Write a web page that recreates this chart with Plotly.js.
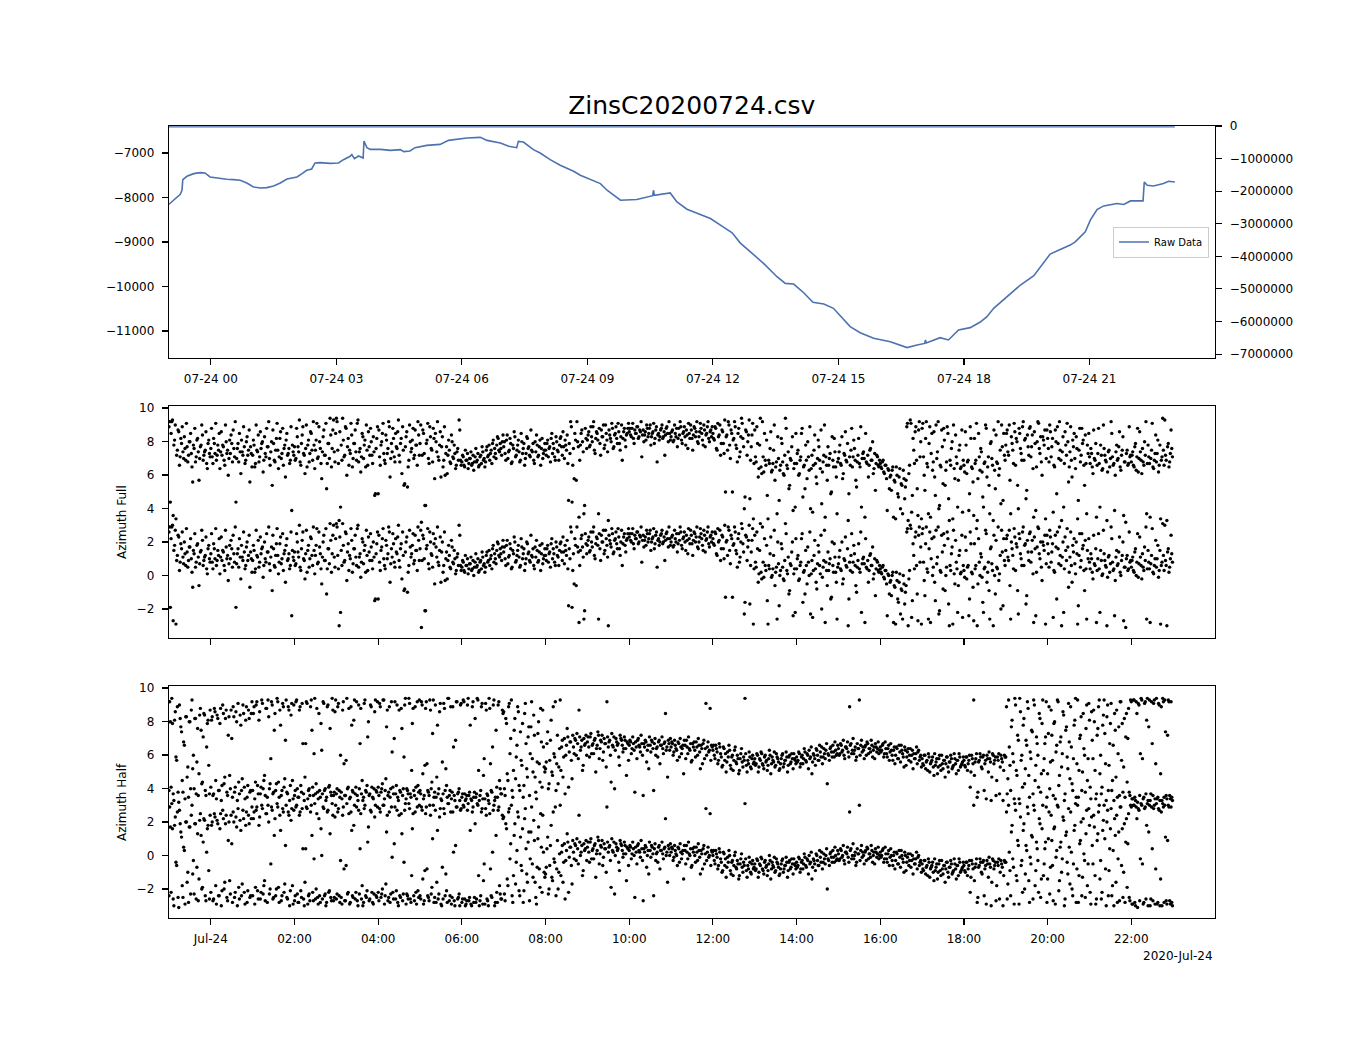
<!DOCTYPE html>
<html>
<head>
<meta charset="utf-8">
<script src="https://cdn.plot.ly/plotly-3.0.1.min.js"></script>
<style>html,body{margin:0;padding:0;background:#fff;} #chart{width:1350px;height:1050px;}</style>
</head>
<body>
<div id="chart"></div>
<script>
// ---------- data ----------
const chartTitle = 'ZinsC20200724.csv';
const dayStartUTC = Date.UTC(2020, 6, 24, 0, 0, 0);

// Raw Data line: hours relative to 2020-07-24 00:00, and values
const rawHours = [-1.00,-0.85,-0.73,-0.69,-0.67,-0.57,-0.41,-0.25,-0.14,-0.02,0.14,0.38,0.54,0.70,0.86,1.02,1.18,1.34,1.50,1.66,1.82,2.06,2.18,2.29,2.41,2.49,2.61,2.85,3.05,3.17,3.33,3.37,3.43,3.53,3.64,3.66,3.73,3.81,4.05,4.29,4.53,4.61,4.76,4.88,5.16,5.48,5.68,5.88,6.12,6.44,6.60,6.92,7.12,7.31,7.35,7.47,7.71,7.87,8.11,8.35,8.67,8.83,9.31,9.47,9.79,10.18,10.56,10.58,10.60,10.98,11.14,11.38,11.78,11.94,12.18,12.46,12.65,12.93,13.21,13.53,13.73,13.93,14.17,14.39,14.65,14.88,15.28,15.52,15.84,16.24,16.64,16.88,17.06,17.08,17.10,17.43,17.63,17.87,18.15,18.39,18.55,18.71,19.03,19.35,19.67,19.83,20.06,20.30,20.54,20.66,20.90,21.02,21.18,21.34,21.66,21.82,21.98,22.28,22.31,22.38,22.53,22.77,22.89,23.04];
const rawValues = [-8152,-8025,-7927,-7840,-7600,-7523,-7464,-7441,-7449,-7538,-7561,-7591,-7598,-7613,-7673,-7763,-7785,-7778,-7740,-7673,-7583,-7538,-7464,-7389,-7359,-7224,-7217,-7232,-7224,-7150,-7075,-7037,-7127,-7067,-7112,-6731,-6880,-6918,-6918,-6940,-6925,-6970,-6955,-6880,-6828,-6806,-6716,-6693,-6663,-6648,-6716,-6776,-6850,-6880,-6738,-6753,-6925,-7000,-7150,-7276,-7411,-7500,-7687,-7837,-8061,-8046,-7960,-7837,-7950,-7897,-8099,-8263,-8420,-8472,-8622,-8794,-9019,-9243,-9481,-9781,-9930,-9945,-10140,-10356,-10394,-10491,-10903,-11038,-11163,-11240,-11374,-11314,-11280,-11202,-11270,-11150,-11202,-10977,-10925,-10800,-10678,-10491,-10230,-9967,-9759,-9557,-9272,-9167,-9070,-8996,-8772,-8510,-8270,-8189,-8135,-8157,-8077,-8077,-7650,-7725,-7740,-7687,-7635,-7650];

// right-axis series (flat, near the top of its axis)
const rightHours = [-1.00, 23.04];
const rightValues = [-25000, -25000];

// azimuth samples: "A" arrays at even minutes, "B" arrays at odd minutes, from 2020-07-23 23:00
const sampleStartHour = -1;
const sampleStepMinutes = 2;
const sampleOffsetBMinutes = 1;

const azimuthFullA = [
2.6,-1.9,2.9,-2.7,1.8,-2.9,1.2,2.3,0.8,1.6,1.1,2.0,0.6,1.4,0.9,1.7,1.0,-0.7,1.3,0.5,1.8,1.1,0.7,1.5,2.1,0.9,1.2,0.4,1.6,1.0,
1.3,0.8,1.9,1.0,0.6,1.5,2.2,1.1,0.9,1.4,0.3,1.7,1.2,0.7,1.0,1.6,2.4,0.8,-1.9,1.3,0.5,1.1,1.8,0.9,1.4,0.6,2.0,1.2,-0.7,1.0,
0.9,1.5,0.4,1.2,2.1,0.8,1.3,1.7,0.6,1.0,2.5,1.4,0.7,1.1,-0.9,1.6,0.5,1.9,1.2,0.8,2.3,1.0,0.3,1.5,1.8,0.9,1.3,0.6,-2.4,1.1,
1.4,0.7,2.0,1.1,0.5,1.6,2.6,0.9,1.3,0.2,1.8,1.0,2.2,0.6,1.5,1.2,2.8,0.8,1.7,0.4,1.1,2.4,0.9,-1.1,1.6,0.7,2.1,1.3,3.0,0.5,
3.1,1.2,-3.0,-2.2,0.6,1.8,0.9,2.5,1.4,0.3,1.0,2.1,0.7,1.6,1.1,2.8,0.5,1.3,0.8,2.0,1.5,0.2,1.2,2.3,0.9,1.7,0.4,1.1,-1.4,1.9,
-1.4,0.8,1.5,2.2,1.0,0.4,1.8,1.3,2.6,0.7,1.1,1.9,0.5,1.4,2.3,0.9,1.6,-0.2,1.2,-0.8,2.0,-1.0,0.6,1.7,1.3,2.5,0.9,1.5,0.3,2.1,
1.6,-3.1,2.4,1.0,-2.1,1.8,0.7,2.6,1.3,0.5,1.9,2.2,1.1,0.8,1.5,-0.4,2.0,0.6,-0.3,1.4,0.9,1.2,0.4,1.7,0.7,1.0,0.3,1.3,3.0,0.6,
0.5,0.8,0.2,0.6,1.0,0.4,0.7,0.3,0.9,0.5,1.3,0.6,0.2,0.8,0.4,1.1,0.7,0.5,1.4,0.9,0.6,1.2,1.6,0.8,1.0,1.5,1.9,1.1,1.3,1.7,
1.4,1.0,1.8,0.7,1.2,1.6,0.5,1.3,2.0,0.9,1.5,1.1,0.6,1.7,1.3,0.3,1.0,1.9,1.4,0.8,1.2,1.6,0.4,1.1,1.5,0.9,1.8,1.3,0.7,1.2,
1.2,1.6,0.8,1.4,1.9,1.0,1.3,0.6,1.7,1.1,1.5,2.0,0.9,1.4,1.8,1.2,0.4,1.6,2.9,-1.9,1.3,2.2,-0.6,1.7,-2.8,1.5,2.4,1.1,-2.1,1.9,
1.8,2.3,1.5,2.0,2.6,1.2,1.9,2.2,-2.6,1.6,2.4,2.0,1.3,2.7,1.8,-3.0,2.1,1.7,2.5,1.4,2.2,1.9,2.8,1.6,2.0,0.6,2.3,1.8,2.1,2.5,
2.3,2.1,2.5,1.9,2.4,2.2,2.6,2.0,2.3,0.8,2.4,2.1,1.8,2.5,2.2,2.7,2.0,2.3,1.6,2.4,0.5,2.2,2.0,2.5,1.9,2.3,2.1,2.6,1.7,2.2,
2.0,2.4,1.8,2.2,2.5,1.9,2.1,2.6,1.6,2.3,2.0,2.4,1.3,2.2,2.7,1.9,2.1,2.5,2.3,1.7,2.0,2.8,2.2,1.5,2.4,2.1,2.6,1.9,2.3,2.0,
2.2,1.8,2.5,1.2,2.0,2.7,1.6,2.3,1.0,-1.3,2.1,2.9,1.5,2.4,-1.3,1.9,2.6,1.3,2.2,0.8,2.0,2.8,1.4,-1.6,2.3,1.7,3.0,0.6,2.1,-2.9,
2.4,0.5,1.6,0.1,3.1,-0.2,0.8,2.2,0.3,-1.5,0.6,1.3,-0.1,0.4,2.7,0.2,-2.6,0.7,0.0,1.9,0.5,-0.3,3.1,0.3,1.1,-0.9,0.6,2.0,0.1,-2.2,
0.4,1.2,-0.2,0.8,2.5,0.2,-1.1,0.6,1.7,0.0,-2.3,0.9,0.3,2.1,-0.4,0.7,1.4,0.1,-2.0,0.5,2.7,0.8,-0.6,0.3,1.0,-1.3,0.6,1.9,0.2,-2.6,
0.7,1.5,0.3,-0.5,1.0,2.3,0.5,-3.0,0.8,1.2,0.2,1.8,0.6,-1.0,0.9,0.4,2.6,0.7,1.1,-2.8,0.5,0.9,0.3,1.3,0.6,-0.2,1.0,0.4,0.8,0.2,
0.4,0.1,0.6,-0.2,0.3,-2.4,0.0,-0.4,-1.2,0.2,-0.6,-2.9,-0.3,-1.6,0.1,-0.8,-2.6,-0.5,-1.0,2.6,-3.0,0.3,2.8,-1.5,1.2,2.3,0.6,-2.7,2.9,1.7,
2.5,0.8,-1.2,2.9,0.2,1.6,-2.8,2.2,0.5,-0.4,2.7,1.1,-2.3,0.3,2.4,-0.8,1.8,0.0,2.6,-1.7,0.6,1.3,-2.9,0.1,2.1,0.4,-0.6,1.5,0.2,-2.5,
0.3,2.3,-0.2,0.6,-1.4,1.9,0.1,-2.7,0.4,2.8,-0.5,0.8,1.3,-0.1,-2.2,0.5,2.5,0.2,-0.9,1.6,0.7,-3.0,0.0,2.1,0.4,-0.3,1.2,2.7,-1.8,0.9,
1.5,2.4,0.9,-0.6,2.0,1.2,2.8,0.3,1.7,-2.3,2.2,1.0,2.6,0.6,1.9,-1.2,1.4,2.5,0.8,2.1,-2.8,1.6,0.2,2.9,1.3,2.0,-0.3,1.8,2.4,0.7,
1.9,0.5,2.3,1.4,-2.5,0.2,1.7,2.6,0.7,1.2,-3.0,2.0,0.4,1.5,2.8,-0.7,1.1,0.6,1.8,2.2,0.1,1.3,-1.8,2.5,0.9,1.6,0.3,2.1,-2.6,1.0,
0.8,1.3,0.2,2.4,0.6,-2.8,1.0,0.4,1.5,0.0,2.7,0.9,0.5,-0.1,1.2,0.7,2.2,0.3,-2.4,1.1,0.6,1.4,0.2,0.9,2.0,0.5,-3.1,1.2,0.4,0.8,
0.5,1.1,0.2,1.6,0.8,-0.1,2.3,0.6,1.3,0.3,0.9,-2.6,1.5,0.4,0.7,2.8,0.1,1.0,0.5,1.8,0.3,-2.9,0.8,1.2,3.0,0.6,1.4,0.2,1.0,1.3
];

const azimuthFullB = [
2.9,2.2,3.0,1.5,2.7,0.9,2.4,0.3,1.9,2.6,0.7,1.3,2.8,0.5,1.7,2.2,0.2,1.5,2.5,0.8,1.9,-0.6,1.4,2.7,0.6,1.1,2.3,0.1,1.8,0.8,
2.5,0.4,1.6,2.8,0.9,1.2,0.1,2.3,1.5,0.6,2.7,1.0,-0.3,1.8,2.1,0.5,1.3,2.9,0.7,1.6,2.2,-0.2,1.1,2.6,0.4,1.7,0.9,2.4,1.4,0.2,
1.8,0.2,2.7,1.1,0.5,2.3,1.6,-0.1,2.0,0.8,1.4,2.9,0.3,1.7,2.4,0.6,1.2,2.8,0.1,1.9,0.7,2.5,1.3,-0.4,2.2,1.0,0.4,2.6,1.5,0.9,
0.6,2.5,1.4,3.0,0.3,2.1,1.0,-0.2,2.7,1.5,0.5,2.3,1.2,2.9,0.1,1.8,0.7,2.6,1.3,-0.5,2.0,0.9,2.8,0.4,1.6,3.1,0.2,2.4,1.1,2.2,
2.9,0.4,2.3,1.5,3.1,0.8,2.6,-0.3,1.9,1.2,2.8,0.2,1.6,2.4,0.6,3.0,1.1,-0.1,2.2,0.7,1.8,2.7,0.3,1.4,2.5,0.9,2.0,-1.5,1.3,2.6,
2.4,0.3,1.7,2.8,0.6,2.1,1.0,2.9,-0.4,1.6,2.5,0.8,2.2,1.3,3.0,0.5,1.9,2.6,-0.9,1.4,2.3,0.2,2.7,1.1,1.8,0.7,2.4,1.5,2.9,0.9,
2.7,0.9,2.2,-2.1,1.6,2.8,0.4,2.0,1.2,2.5,-0.5,1.7,2.9,0.6,2.3,1.4,0.2,2.6,1.0,-0.2,1.8,0.5,2.1,0.8,1.5,0.1,1.1,0.6,2.4,0.3,
0.9,0.3,1.2,0.6,0.1,0.7,1.1,0.4,0.0,0.8,0.5,1.0,0.3,0.9,1.4,0.6,0.2,1.2,0.8,1.5,1.0,0.4,1.8,1.3,0.7,2.0,1.2,1.6,0.9,2.1,
1.7,0.6,2.1,1.1,1.9,0.4,1.5,2.3,0.8,1.2,1.8,0.5,2.2,1.0,1.6,0.7,2.0,1.3,0.9,2.4,1.1,0.6,1.7,2.1,0.8,1.4,0.3,1.9,1.0,1.6,
0.9,1.8,1.3,0.5,2.2,1.6,0.8,2.0,1.2,0.6,1.9,1.4,2.3,0.7,1.5,2.1,-1.8,1.0,2.6,0.3,-0.5,1.8,2.9,1.4,0.6,2.2,1.7,-2.6,2.5,1.3,
2.1,1.4,2.6,1.7,2.9,1.0,2.3,1.8,2.5,0.9,2.0,2.7,1.5,2.2,1.1,2.4,1.9,2.8,1.3,2.1,2.6,1.6,2.3,1.2,2.7,1.9,2.5,1.4,2.2,2.8,
2.5,2.0,2.8,1.6,2.2,2.6,1.9,2.4,2.9,2.1,1.7,2.3,2.7,2.0,2.5,1.5,2.2,2.8,1.9,2.6,2.1,1.8,2.4,2.7,2.0,0.9,2.5,2.2,2.9,1.8,
2.3,1.7,2.7,2.0,1.4,2.5,2.9,1.8,2.2,2.6,1.5,2.1,2.8,1.9,2.4,1.2,2.6,2.0,2.9,1.6,2.3,2.5,1.8,2.7,1.4,2.2,2.9,1.7,2.4,2.6,
1.9,2.6,1.3,2.8,2.1,0.9,2.4,1.6,3.0,2.0,1.2,2.7,0.7,2.2,1.8,2.9,1.5,0.5,2.5,1.1,3.1,1.9,-2.3,2.4,0.9,2.1,-1.7,1.4,2.8,0.4,
0.8,2.6,-0.4,1.5,0.2,2.9,-0.1,0.6,1.8,-2.9,0.4,2.3,0.0,1.2,-0.6,0.5,2.0,-1.8,0.3,1.6,-0.2,0.9,2.5,0.1,-1.1,0.7,1.4,-2.4,0.4,2.2,
1.0,-0.3,0.6,2.2,-1.6,0.3,1.5,-0.5,0.8,2.6,0.1,-2.5,1.2,0.4,-0.8,1.8,0.6,2.4,-0.1,0.9,-2.8,0.3,1.4,0.7,-1.4,2.0,0.2,1.1,-0.4,0.5,
1.1,0.4,2.0,-0.2,0.9,0.6,1.6,-1.4,0.3,2.5,0.8,1.3,-0.6,0.5,1.9,0.2,-2.2,1.0,0.7,2.2,0.4,-0.4,1.2,0.6,1.7,0.1,-1.2,0.9,0.3,0.6,
0.2,0.5,-0.1,0.3,-0.5,0.1,-1.1,-0.3,0.0,-2.8,-0.7,0.2,-1.4,-0.4,-2.3,-0.9,0.0,-1.7,-0.6,2.8,-0.2,3.0,-2.5,1.9,0.4,2.6,-1.1,2.4,0.8,-2.9,
2.8,-0.3,1.9,0.4,-2.6,2.6,1.0,0.0,2.3,-1.5,0.7,2.9,-2.1,0.2,1.4,2.5,-0.9,0.5,2.2,-3.0,0.3,1.7,2.7,-0.5,0.8,-2.2,1.2,0.1,2.4,0.6,
-0.1,1.5,0.5,-2.4,2.6,0.2,-0.7,1.9,0.6,-3.0,2.2,0.0,1.1,-1.6,0.4,2.7,-0.4,0.8,-2.6,1.7,0.3,2.4,-1.1,0.5,2.9,0.1,-2.0,1.4,2.2,0.6,
2.2,1.1,2.7,-2.6,1.6,0.4,2.3,1.9,-0.9,2.5,1.3,0.6,2.9,1.8,-1.7,2.1,0.9,2.6,1.4,0.1,2.3,-2.4,1.7,2.8,1.0,0.5,2.0,1.5,-2.9,2.4,
1.3,2.7,0.8,1.9,0.3,2.4,-1.4,1.6,2.9,0.6,1.1,-2.2,2.3,0.9,1.7,0.2,2.6,-0.4,1.4,0.7,2.0,-2.9,1.2,0.5,2.5,1.8,-0.9,0.4,1.5,2.2,
0.4,1.0,-0.2,0.7,1.6,0.3,2.5,-2.2,0.9,0.1,1.3,0.6,-3.0,1.1,0.2,2.9,0.8,0.4,-0.3,1.5,0.7,2.3,0.0,1.2,-2.7,0.5,1.0,0.3,2.6,0.9,
0.9,0.3,1.4,0.0,2.5,0.7,1.1,-0.2,0.5,1.7,2.9,0.4,0.8,-2.8,1.2,0.2,0.6,2.1,1.0,-0.1,1.5,0.6,3.1,0.3,0.9,-3.0,1.6,0.5,2.4,0.8
];

const azimuthHalfA = [
-2.4,1.7,3.1,-2.6,1.8,-0.4,2.6,-3.1,1.9,1.1,-2.5,0.3,2.0,-1.6,-2.8,1.7,2.4,-1.1,-2.3,1.9,-0.7,-2.7,2.1,1.2,-1.9,2.2,-2.4,0.2,1.8,-2.6,
-2.2,2.0,-2.6,2.3,-2.9,1.9,-2.4,2.5,-2.1,2.2,-1.6,2.4,-2.7,2.0,-2.3,0.7,2.6,-2.5,2.3,-3.0,-1.9,2.1,-2.4,2.7,-2.2,1.8,-2.8,2.4,-2.5,2.2,
-2.4,2.6,-1.9,2.9,-2.6,2.3,-2.2,2.8,-1.8,-2.7,2.5,3.0,-2.3,-0.5,2.7,-2.5,2.2,-2.0,2.9,-2.8,1.5,-2.4,2.6,-1.7,3.0,-2.6,2.4,-2.1,2.8,-2.9,
-2.7,2.9,-2.3,-2.8,2.6,-2.5,0.4,-3.0,0.4,2.8,-2.4,-2.7,3.0,-2.2,-0.2,-2.6,2.5,-2.9,-2.4,1.6,-2.6,2.8,-2.3,-2.8,2.7,-2.1,-2.5,3.1,-2.7,2.3,
-2.6,2.6,-2.4,-0.3,-2.9,2.9,-2.7,-0.6,-2.3,2.5,-2.8,1.5,-2.5,3.0,-2.2,-2.7,2.7,0.4,-2.6,-3.0,2.8,-2.4,-2.1,1.7,-2.6,2.6,-2.8,-2.3,3.0,-2.5,
-2.2,2.8,-2.5,-2.0,3.0,-2.4,1.4,-2.7,2.6,-2.3,-0.1,-2.6,2.9,-2.1,-2.8,2.4,-2.5,1.3,-2.3,2.7,-2.9,-2.4,3.1,-2.6,-1.2,2.5,-2.7,-2.2,2.9,-2.5,
-2.4,2.9,-1.4,-2.7,2.5,-0.8,-2.5,3.0,-2.3,1.0,-2.8,2.7,-1.6,-2.6,2.3,-2.9,-0.7,2.8,-2.4,-2.1,3.1,-2.7,2.6,-2.5,0.2,-3.0,2.9,-2.6,-2.3,2.7,
-2.8,3.0,-2.6,-2.9,2.7,-2.7,1.5,-3.0,2.9,-2.5,-2.8,3.1,-1.2,-2.7,2.6,-2.9,-0.5,2.8,-2.6,-3.0,2.5,-2.4,0.2,3.0,-2.8,-2.2,2.7,-1.8,-2.6,2.4,
2.3,-2.7,1.6,-1.8,2.8,0.7,-2.4,-1.2,1.9,-0.4,2.6,-2.1,1.1,-0.9,-2.8,2.2,0.4,-1.6,1.4,-0.2,2.9,-1.3,0.9,-2.5,-0.7,1.7,-1.9,0.5,2.4,-1.0,
-1.1,0.4,-2.3,-0.6,1.8,-1.5,-0.2,2.9,-0.8,-2.0,0.1,-1.2,0.6,-0.4,-2.6,0.3,0.8,-0.1,0.5,-1.7,0.2,0.7,-0.3,0.4,2.4,0.0,0.6,-0.9,0.3,0.9,
0.5,0.2,0.8,-0.2,0.4,0.6,-1.3,0.3,0.9,0.1,0.5,-0.6,0.7,0.4,2.9,0.2,0.6,-1.9,0.3,0.8,0.0,0.5,0.4,-0.9,0.7,0.3,0.1,0.6,-1.5,0.4,
0.3,0.5,0.1,0.4,-2.5,0.2,0.6,0.3,-0.1,0.4,-2.7,0.2,0.5,0.0,-1.1,0.3,0.6,0.1,0.4,-0.3,0.2,0.5,-0.8,0.3,0.1,0.4,2.2,0.2,0.6,0.0,
0.2,0.4,-0.1,0.3,0.0,0.5,-0.4,0.2,0.1,-1.4,0.3,0.6,-0.2,0.1,0.4,-0.6,0.2,0.0,0.5,-0.3,0.3,-1.1,0.1,0.4,-0.5,2.8,0.2,-0.1,2.5,0.3,
0.0,-0.3,0.3,-0.1,-0.6,0.2,-0.4,-0.9,0.1,-0.2,-0.7,-0.4,0.0,-1.1,-0.3,-0.6,0.2,-0.8,-0.5,-1.2,-0.2,-0.7,-0.4,3.1,-0.9,-0.6,-0.1,-1.0,-0.5,-0.8,
-0.5,-0.8,-0.3,-1.0,-0.6,-0.2,-0.9,-0.4,-0.7,-1.2,-0.5,-0.3,-0.8,-0.6,-0.1,-0.9,-0.4,-0.7,-1.1,-0.5,-0.2,-0.8,-0.6,-0.4,-0.9,-0.3,-0.7,-0.5,-0.2,-0.6,
-0.4,-0.6,-0.2,-0.8,-0.3,-0.5,-0.1,-0.7,-0.3,0.0,-0.4,-1.4,-0.2,-0.5,0.1,-0.3,-0.6,-0.1,0.2,-0.4,-0.2,0.0,-2.0,-0.3,0.1,-0.1,0.3,-0.4,0.0,-0.2,
0.1,-0.2,0.3,0.0,-0.3,0.2,0.1,-0.1,2.6,0.4,0.0,-0.2,0.2,-0.4,0.1,3.0,0.3,-0.1,0.0,0.2,-0.3,0.4,0.1,-0.1,0.3,0.0,-0.5,0.2,0.1,-0.2,
0.2,0.0,0.4,-0.2,0.1,-0.4,0.3,-0.1,0.0,-0.6,0.2,-0.3,0.1,-0.5,-0.1,0.3,-0.2,-1.0,0.0,-0.4,0.1,-0.3,-0.7,0.0,-0.2,-0.5,0.2,-0.1,-0.6,-0.3,
-0.5,-0.9,-0.3,-0.7,-1.2,-0.4,-0.8,-0.6,-1.0,-0.2,-0.7,-1.4,-0.5,-0.9,-0.3,-1.1,-0.6,-0.8,-0.4,-1.3,-0.7,-0.5,-1.0,-0.2,-0.8,-0.6,-1.2,-0.4,-0.9,-0.7,
-0.6,-1.0,-0.4,-0.8,-0.3,-1.3,-0.5,3.0,-0.7,-0.2,-2.5,-0.6,-0.4,-1.1,-0.3,-0.8,-2.9,-0.5,-0.1,-0.7,-1.6,-0.3,-0.6,-2.7,-0.4,-0.2,-1.0,-0.5,-3.0,-0.3,
-0.4,-2.6,3.0,-0.9,1.4,-0.2,-2.9,2.7,-1.5,0.6,3.1,-0.6,-2.2,1.9,-1.1,0.3,2.5,-2.8,-0.5,1.1,3.0,-1.8,0.8,-0.3,2.2,-2.5,1.6,-1.2,0.4,2.9,
-1.4,2.6,-0.7,0.9,-2.7,1.7,-0.1,3.0,-2.1,0.5,-1.0,2.3,-3.0,1.2,-0.4,2.8,-1.7,0.2,-2.4,1.5,3.1,-0.8,-2.8,0.7,2.0,-1.3,0.1,-2.5,2.7,-0.5,
1.8,-2.9,0.6,2.4,-1.2,-2.6,1.3,3.0,-0.3,-2.2,2.1,1.0,-3.0,2.7,-0.9,1.6,-2.4,0.3,2.2,-1.6,-2.8,1.4,2.9,-0.6,-2.5,1.9,0.8,-1.9,2.5,-2.7,
2.9,-2.9,3.0,-3.0,2.2,2.8,-2.7,3.1,-0.5,-2.8,2.9,1.8,-3.0,3.0,-2.6,0.4,2.8,-2.9,3.1,-2.8,2.7,-1.4,-3.0,2.9,3.0,-2.7,0.9,2.9,-2.9,-2.8
];

const azimuthHalfB = [
2.9,-2.2,1.6,-3.0,2.3,-0.6,-2.5,2.7,1.4,-1.8,0.5,-2.9,2.0,-1.0,1.7,-2.3,3.0,-0.3,1.9,-2.6,1.3,-1.4,2.5,-2.0,0.8,2.1,-2.7,1.6,-0.9,2.4,
1.8,-2.7,2.5,-1.8,2.1,-2.4,1.6,-3.0,2.7,-2.0,1.9,-2.5,0.9,-1.5,2.4,-2.8,2.0,-2.2,1.7,2.8,-2.6,1.5,-1.7,2.2,-2.9,2.6,-2.1,1.9,-2.4,2.9,
2.2,-2.9,2.7,-2.1,1.8,-2.6,3.0,-2.3,-1.5,2.5,-2.8,2.0,-2.0,2.9,-2.6,1.2,-2.4,3.1,-1.9,2.4,-2.7,2.8,-2.2,0.6,-2.5,2.6,-3.0,2.1,-1.8,2.7,
-2.4,3.0,-2.8,2.4,-2.1,2.8,-2.6,-1.6,2.9,-2.9,-2.3,2.6,1.2,-2.7,3.1,-2.0,-2.5,2.2,-2.8,0.0,2.9,-2.4,-3.0,2.6,-2.2,1.3,-2.7,2.4,-2.5,3.0,
-2.3,2.8,-2.8,-2.5,2.4,-0.8,-2.7,3.1,-2.2,-2.9,2.6,-2.4,1.8,-2.6,2.9,-3.0,-2.3,2.5,-1.8,-2.8,3.0,-2.5,0.8,-2.7,2.7,-2.2,-2.9,2.3,-2.4,2.9,
-2.7,2.6,-2.3,3.0,-2.9,-1.7,2.4,-2.5,-2.8,2.9,-2.2,0.7,-2.6,2.7,-3.0,-2.4,2.5,-2.7,-0.4,3.1,-2.3,-2.6,2.8,-2.8,1.6,-2.4,2.6,-2.9,-2.1,3.0,
-2.6,2.7,-2.9,-0.9,2.9,-2.4,-2.7,2.4,-1.9,3.0,-2.5,-2.8,1.5,-2.3,2.8,-3.0,-2.6,2.5,-1.1,-2.8,3.1,-2.4,-2.9,2.6,-2.7,0.6,2.9,-2.5,-3.0,2.8,
-2.6,2.9,-3.0,-2.7,3.1,-2.5,-2.9,2.6,-2.8,1.9,-2.6,3.0,-3.0,-2.4,2.8,-1.5,-2.9,2.4,-2.7,3.1,-0.8,-2.5,2.7,-3.0,1.2,-2.8,2.9,-2.3,-2.6,2.2,
-2.3,1.9,-1.4,2.6,-0.2,3.0,-2.8,1.2,-1.7,0.3,2.3,-2.4,-0.6,1.6,-2.1,2.8,-1.1,0.8,-2.7,1.4,-0.5,2.1,-1.6,-2.9,1.0,-0.8,2.5,-2.2,0.2,-1.3,
-0.7,1.1,-2.0,0.6,-1.3,2.6,-0.4,-2.4,0.9,-1.0,3.0,0.2,-1.6,0.7,-0.3,1.3,-2.2,0.5,-0.6,0.9,-0.2,0.6,1.0,-0.5,0.8,0.2,-1.2,0.7,0.4,-0.3,
0.8,-0.4,1.0,0.3,-0.2,0.7,0.1,1.1,-0.5,0.6,0.9,-0.1,0.4,-1.0,0.8,0.5,-0.3,1.0,0.2,-2.3,0.7,0.3,-0.4,0.9,0.6,-0.1,0.8,0.1,0.5,-0.6,
0.6,-0.2,0.8,0.0,0.5,-0.5,0.7,0.2,0.9,-0.3,0.4,0.6,-0.7,0.3,0.8,-0.1,0.5,-2.4,0.7,0.1,-0.4,0.6,0.3,0.8,-0.2,0.5,0.0,-1.6,0.4,0.7,
0.5,-0.3,0.6,0.1,-0.6,0.4,0.7,-0.2,0.3,0.6,-0.5,0.2,0.8,0.0,-0.7,0.4,0.5,-0.4,0.2,0.7,-0.1,0.3,-0.8,0.6,0.1,-0.3,0.5,0.0,-0.6,0.2,
0.3,-0.5,0.1,-0.8,0.4,-0.2,-1.0,0.2,-0.6,-1.3,-0.1,0.3,-0.9,-0.4,-1.2,0.0,-0.7,-0.3,-1.4,-0.5,0.1,-1.0,-0.6,-0.2,-1.3,-0.8,-0.4,-1.1,-0.3,-0.7,
-0.9,-0.2,-1.3,-0.5,-0.1,-0.8,-1.1,-0.3,-0.6,-0.9,0.0,-1.4,-0.4,-0.7,-1.0,-0.2,-0.5,-1.2,-0.8,-0.3,-1.0,-0.6,-0.1,-1.3,-0.4,-0.8,-0.2,-1.1,-0.5,-0.8,
-0.7,-0.1,-1.0,-0.4,-0.8,0.1,-0.6,-0.2,-1.1,-0.5,0.2,-0.7,-0.3,-0.9,0.0,-0.6,0.3,-0.4,-0.8,0.1,-0.5,0.4,-0.2,-0.6,0.2,-0.4,-0.1,0.5,-0.3,0.3,
-0.3,0.4,-0.1,0.6,-0.5,0.2,0.5,-0.4,0.3,-0.2,0.7,0.0,-0.6,0.4,0.1,-0.3,0.6,0.2,-0.5,0.3,0.5,-0.2,0.1,0.6,-0.4,0.2,0.4,-0.1,0.5,0.0,
-0.1,0.3,-0.4,0.5,-0.2,0.1,-0.6,0.4,-0.3,0.0,-0.8,0.2,-0.5,0.3,-0.7,0.0,-0.4,0.2,-0.9,-0.1,-0.6,0.1,-0.3,-1.1,-0.5,-0.2,-0.8,0.0,-0.4,-1.0,
-0.8,-0.3,-1.1,-0.6,-0.2,-1.3,-0.7,-0.4,-1.5,-0.9,-0.5,-1.0,-0.3,-1.2,-0.8,-0.6,-1.6,-0.4,-1.0,-0.7,-0.3,-1.1,-0.9,-0.5,-1.4,-0.6,-0.2,-1.0,-0.8,-0.4,
-0.9,-0.4,-1.2,-0.6,-2.2,-0.3,-0.8,-1.5,-0.5,-2.8,-0.7,-0.2,-1.0,-0.4,-2.4,-0.6,-0.3,-1.3,-0.5,-3.0,-0.2,-0.8,-0.4,-1.8,-0.6,-2.6,-0.3,-0.7,-1.2,-0.4,
2.6,-1.7,0.2,-2.4,1.8,-0.7,3.1,-1.2,0.9,-2.9,2.3,-0.3,1.5,-2.0,0.6,2.9,-1.5,-0.1,1.2,-2.6,2.7,-0.9,0.4,-2.2,1.9,-1.4,3.0,-0.5,0.8,-2.8,
1.0,-2.3,2.4,-0.6,1.6,-2.9,0.3,2.9,-1.5,0.8,-0.2,2.1,-2.6,1.4,-1.1,0.5,2.6,-2.0,-0.5,1.8,-2.8,3.0,-1.2,0.9,-2.4,2.2,-0.3,1.3,-1.8,2.8,
-2.2,2.3,-0.5,1.7,-2.9,0.9,2.6,-1.4,-2.6,1.5,3.0,-0.8,2.0,-2.4,0.4,2.8,-1.8,-3.0,1.2,2.4,-0.2,-2.7,2.9,1.6,-1.0,-2.8,2.2,0.7,-2.5,3.0,
-2.9,3.0,-2.8,2.9,-3.1,2.7,-0.2,3.0,-2.9,2.8,-2.6,3.1,1.4,-3.0,2.9,-2.7,3.0,-0.8,-2.9,2.8,-3.0,2.6,3.1,-2.8,1.1,-2.9,3.0,-2.7,2.9,-3.0
];

// tick values and labels
const topTickHours = [0, 3, 6, 9, 12, 15, 18, 21];
const topTickText = ['07-24 00','07-24 03','07-24 06','07-24 09','07-24 12','07-24 15','07-24 18','07-24 21'];
const bottomTickHours = [0, 2, 4, 6, 8, 10, 12, 14, 16, 18, 20, 22];
const bottomTickText = ['Jul-24','02:00','04:00','06:00','08:00','10:00','12:00','14:00','16:00','18:00','20:00','22:00'];
const leftTickVals = [-11000, -10000, -9000, -8000, -7000];
const rightTickVals = [0, -1000000, -2000000, -3000000, -4000000, -5000000, -6000000, -7000000];
const azTickVals = [-2, 0, 2, 4, 6, 8, 10];
const offsetLabel = '2020-Jul-24';
const xRangeHours = [-1, 24];

// ---------- helpers ----------
function hoursToDate(h) {
  const d = new Date(dayStartUTC + Math.round(h * 3600000));
  return d.toISOString().replace('T', ' ').slice(0, 19);
}
function numLabel(v) { return v < 0 ? '\u2212' + Math.abs(v) : String(v); }
const timesA = azimuthFullA.map((_, i) => hoursToDate(sampleStartHour + i * sampleStepMinutes / 60));
const timesB = azimuthFullB.map((_, i) => hoursToDate(sampleStartHour + (i * sampleStepMinutes + sampleOffsetBMinutes) / 60));
const shift = 2 * Math.PI;

const font = 'DejaVu Sans, Liberation Sans, sans-serif';
const lineBlue = '#4c72b0';
const markerStyle = {color: '#000000', size: 3.4};

function scatterPair(times, vals, xa, ya, nm) {
  return [
    {x: times, y: vals, type: 'scatter', mode: 'markers', marker: markerStyle,
     xaxis: xa, yaxis: ya, showlegend: false, name: nm},
    {x: times, y: vals.map(v => v + shift), type: 'scatter', mode: 'markers', marker: markerStyle,
     xaxis: xa, yaxis: ya, showlegend: false, name: nm + ' +2π'}
  ];
}

const traces = [
  {x: rawHours.map(hoursToDate), y: rawValues, type: 'scatter', mode: 'lines', name: 'Raw Data',
   line: {color: lineBlue, width: 1.6}, xaxis: 'x', yaxis: 'y', showlegend: true},
  {x: rightHours.map(hoursToDate), y: rightValues, type: 'scatter', mode: 'lines', name: 'right',
   line: {color: lineBlue, width: 1.2}, xaxis: 'x', yaxis: 'y2', showlegend: false}
].concat(
  scatterPair(timesA, azimuthFullA, 'x2', 'y3', 'Azimuth Full'),
  scatterPair(timesB, azimuthFullB, 'x2', 'y3', 'Azimuth Full'),
  scatterPair(timesA, azimuthHalfA, 'x3', 'y4', 'Azimuth Half'),
  scatterPair(timesB, azimuthHalfB, 'x3', 'y4', 'Azimuth Half')
);

const tickFont = {family: font, size: 12, color: '#000'};
const axisBase = {
  showline: true, linecolor: '#000', linewidth: 1.3, mirror: true,
  ticks: 'outside', ticklen: 6, tickwidth: 1.1, tickcolor: '#000',
  showgrid: false, zeroline: false, tickfont: tickFont
};
const xBase = Object.assign({}, axisBase, {ticklabelstandoff: 3});
const yBase = Object.assign({}, axisBase, {ticklabelstandoff: 5});
const xRange = xRangeHours.map(hoursToDate);

const layout = {
  width: 1350, height: 1050,
  paper_bgcolor: '#fff', plot_bgcolor: '#fff',
  margin: {l: 169, r: 135, t: 126, b: 132, pad: 0},
  font: {family: font, color: '#000'},
  title: {text: chartTitle, font: {family: font, size: 25, color: '#000'},
          x: 0.5124, xanchor: 'center', y: 0.9, yanchor: 'middle', yref: 'container'},
  showlegend: true,
  legend: {x: 0.9943, xanchor: 'right', y: 0.8535, yanchor: 'middle',
           bgcolor: 'rgba(255,255,255,0.9)', bordercolor: '#cccccc', borderwidth: 1,
           font: {family: font, size: 10, color: '#000'}, itemwidth: 30, tracegroupgap: 0},
  xaxis: Object.assign({}, xBase, {
    type: 'date', range: xRange, anchor: 'y', domain: [0, 1],
    tickmode: 'array', tickvals: topTickHours.map(hoursToDate), ticktext: topTickText
  }),
  yaxis: Object.assign({}, yBase, {
    domain: [0.7071, 1], range: [-11607, -6393], anchor: 'x',
    tickmode: 'array', tickvals: leftTickVals, ticktext: leftTickVals.map(numLabel)
  }),
  yaxis2: Object.assign({}, yBase, {
    overlaying: 'y', side: 'right', anchor: 'x', range: [-7120000, 0], mirror: false,
    tickmode: 'array', tickvals: rightTickVals, ticktext: rightTickVals.map(numLabel)
  }),
  xaxis2: Object.assign({}, xBase, {
    type: 'date', range: xRange, anchor: 'y3', domain: [0, 1], matches: 'x3',
    tickmode: 'array', tickvals: bottomTickHours.map(hoursToDate), ticktext: bottomTickText,
    showticklabels: false
  }),
  yaxis3: Object.assign({}, yBase, {
    domain: [0.3535, 0.6465], range: [-3.73, 10.12], anchor: 'x2',
    tickmode: 'array', tickvals: azTickVals, ticktext: azTickVals.map(numLabel)
  }),
  xaxis3: Object.assign({}, xBase, {
    type: 'date', range: xRange, anchor: 'y4', domain: [0, 1],
    tickmode: 'array', tickvals: bottomTickHours.map(hoursToDate), ticktext: bottomTickText
  }),
  yaxis4: Object.assign({}, yBase, {
    domain: [0, 0.2929], range: [-3.73, 10.12], anchor: 'x3',
    tickmode: 'array', tickvals: azTickVals, ticktext: azTickVals.map(numLabel)
  }),
  annotations: [
    {text: 'Azimuth Full', xref: 'paper', yref: 'paper', x: -0.0449, y: 0.5, textangle: -90,
     showarrow: false, xanchor: 'center', yanchor: 'middle', font: {family: font, size: 12, color: '#000'}},
    {text: 'Azimuth Half', xref: 'paper', yref: 'paper', x: -0.0449, y: 0.1465, textangle: -90,
     showarrow: false, xanchor: 'center', yanchor: 'middle', font: {family: font, size: 12, color: '#000'}},
    {text: offsetLabel, xref: 'paper', yref: 'paper', x: 1, y: -0.048, showarrow: false,
     xanchor: 'right', yanchor: 'middle', font: {family: font, size: 12, color: '#000'}}
  ]
};

Plotly.newPlot('chart', traces, layout, {staticPlot: true, displayModeBar: false});
</script>
</body>
</html>
